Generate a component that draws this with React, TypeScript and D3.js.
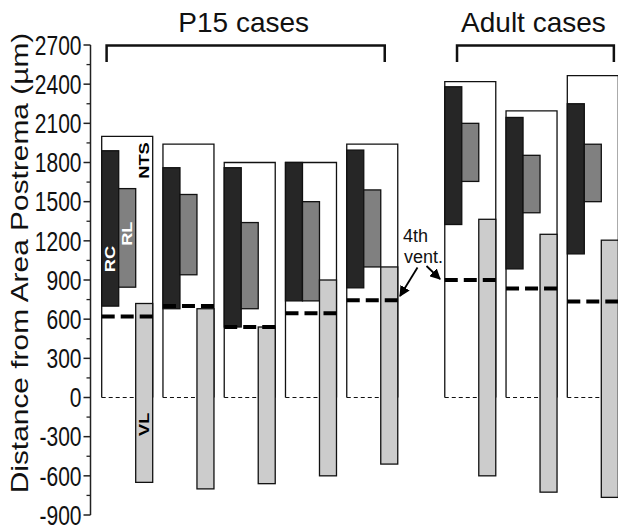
import React from 'react';
import * as d3 from 'd3';

const width = 618;
const height = 526;
const font = '"Liberation Sans", Arial, Helvetica, sans-serif';

// cases, P15 first then adult
const caseNames = ['P15-1', 'P15-2', 'P15-3', 'P15-4', 'P15-5', 'Adult-1', 'Adult-2', 'Adult-3'];
const caseGroup = ['P15', 'P15', 'P15', 'P15', 'P15', 'Adult', 'Adult', 'Adult'];
const groupTitles = ['P15 cases', 'Adult cases'];

// rostrocaudal extent in µm from area postrema
const ntsTop = [2000, 1940, 1800, 1800, 1940, 2420, 2195, 2465];
const rcTop = [1890, 1760, 1760, 1800, 1895, 2380, 2145, 2250];
const rcBottom = [700, 680, 540, 740, 840, 1325, 985, 1100];
const rlTop = [1600, 1555, 1340, 1500, 1590, 2100, 1855, 1940];
const rlBottom = [845, 940, 680, 740, 1000, 1655, 1415, 1500];
const vlTop = [720, 680, 540, 900, 1000, 1365, 1250, 1205];
const vlBottom = [-650, -700, -660, -600, -510, -600, -725, -765];
const ventLevel = [620, 700, 540, 645, 745, 900, 835, 735];

const subRegions = ['RC', 'RL', 'VL'];
const regionFill = { RC: '#262626', RL: '#808080', VL: '#cccccc' };

const yTicks = d3.range(-900, 2701, 300);

export default function App() {
  const yScale = d3.scaleLinear().domain([-900, 2700]).range([515, 45]);
  // slot index, adult group shifted right by a gap
  const slot = (i) => i + (caseGroup[i] === 'Adult' ? 0.6 : 0);
  const xScale = d3.scaleLinear().domain([0, 7.6]).range([101.7, 567.3]);
  const inner = d3.scaleBand().domain(subRegions).range([0, 51]).padding(0);
  const caseW = 51;
  const axisX = 90.5;

  const minorTicks = d3.range(-750, 2700, 300);

  const brackets = [
    { title: groupTitles[0], x0: xScale(0.08), x1: xScale(4.62) },
    { title: groupTitles[1], x0: xScale(5.8), x1: xScale(8.36) },
  ];

  const bar = (i, region, top, bottom) => {
    const x = xScale(slot(i)) + inner(region);
    return (
      <rect
        x={x}
        y={yScale(top)}
        width={inner.bandwidth()}
        height={yScale(bottom) - yScale(top)}
        fill={regionFill[region]}
        stroke="#111"
        strokeWidth={1.3}
      />
    );
  };

  const rotLabel = (x, v, txt, color, size = 14) => (
    <text
      transform={`translate(${x},${yScale(v)}) scale(1,1.3) rotate(-90)`}
      textAnchor="middle"
      dominantBaseline="central"
      fontFamily={font}
      fontWeight="bold"
      fontSize={size}
      fill={color}
    >
      {txt}
    </text>
  );

  const x0 = xScale(slot(0));

  return (
    <svg width={width} height={height} style={{ position: 'absolute', left: 0, top: 0, background: '#fff' }}>
      {/* y axis */}
      <line x1={axisX} x2={axisX} y1={yScale(2700)} y2={yScale(-900)} stroke="#222" strokeWidth={1.5} />
      {yTicks.map(t => (
        <g key={t}>
          <line x1={axisX - 7} x2={axisX} y1={yScale(t)} y2={yScale(t)} stroke="#222" strokeWidth={1.5} />
          <text
            transform={`translate(81.5,${yScale(t)}) scale(1,1.28)`}
            textAnchor="end"
            dy="0.36em"
            fontFamily={font}
            fontSize={21}
            fill="#111"
          >
            {t}
          </text>
        </g>
      ))}
      {minorTicks.map(t => (
        <line key={t} x1={axisX - 4} x2={axisX} y1={yScale(t)} y2={yScale(t)} stroke="#222" strokeWidth={1.3} />
      ))}
      <text
        transform={`translate(28,263) scale(1,1.3) rotate(-90)`}
        textAnchor="middle"
        fontFamily={font}
        fontSize={23}
        fill="#111"
      >
        Distance from Area Postrema (µm)
      </text>

      {/* group brackets */}
      {brackets.map(b => (
        <g key={b.title}>
          <path d={`M${b.x0},62V45.5H${b.x1}V62`} fill="none" stroke="#111" strokeWidth={2.5} />
          <text x={(b.x0 + b.x1) / 2 - 2} y={32} textAnchor="middle" fontFamily={font} fontSize={28} fill="#111">
            {b.title}
          </text>
        </g>
      ))}

      {/* cases */}
      {caseNames.map((name, i) => {
        const x = xScale(slot(i));
        const top = yScale(ntsTop[i]);
        const zero = yScale(0);
        return (
          <g key={name}>
            <rect x={x} y={top} width={caseW} height={zero - top} fill="#fff" stroke="none" />
            <path d={`M${x},${zero}V${top}H${x + caseW}V${zero}`} fill="none" stroke="#111" strokeWidth={1.3} />
            <line x1={x} x2={x + caseW} y1={zero} y2={zero} stroke="#111" strokeWidth={1} strokeDasharray="4,3" />
            {bar(i, 'RC', rcTop[i], rcBottom[i])}
            {bar(i, 'RL', rlTop[i], rlBottom[i])}
            {bar(i, 'VL', vlTop[i], vlBottom[i])}
            <line
              x1={x}
              x2={x + caseW}
              y1={yScale(ventLevel[i])}
              y2={yScale(ventLevel[i])}
              stroke="#000"
              strokeWidth={4}
              strokeDasharray="13,6"
            />
          </g>
        );
      })}

      {/* region labels on first case */}
      {rotLabel(x0 + inner('RC') + inner.bandwidth() / 2, 1060, 'RC', '#fff')}
      {rotLabel(x0 + inner('RL') + inner.bandwidth() / 2, 1255, 'RL', '#fff')}
      {rotLabel(x0 + inner('VL') + inner.bandwidth() / 2, 1815, 'NTS', '#000')}
      {rotLabel(x0 + inner('VL') + inner.bandwidth() / 2, -205, 'VL', '#000')}

      {/* 4th ventricle annotation */}
      <defs>
        <marker id="ah" viewBox="0 0 10 10" refX="9" refY="5" markerWidth="6" markerHeight="6" orient="auto">
          <path d="M0,0L10,5L0,10z" fill="#000" />
        </marker>
      </defs>
      <text x={403} y={242} fontFamily={font} fontSize={18} fill="#111">4th</text>
      <text x={404} y={263} fontFamily={font} fontSize={18} fill="#111">vent.</text>
      <line x1={417.5} y1={267.5} x2={400} y2={296} stroke="#000" strokeWidth={1.8} markerEnd="url(#ah)" />
      <line x1={426.5} y1={266} x2={440} y2={279} stroke="#000" strokeWidth={1.8} markerEnd="url(#ah)" />
    </svg>
  );
}
